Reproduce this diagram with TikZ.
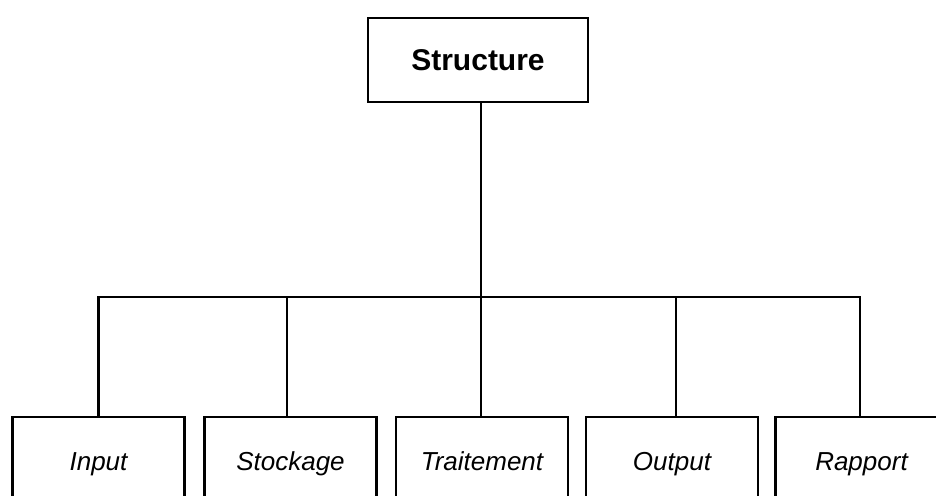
\documentclass[tikz,border=0pt]{standalone}
\usepackage{fontspec}
\setmainfont{Liberation Sans}
\usetikzlibrary{shadows}
\begin{document}
\begin{tikzpicture}[x=1pt,y=-1pt,
  boxshadow/.style={drop shadow={shadow xshift=1.2pt,shadow yshift=-1.2pt,fill=black!45,opacity=1}},
  topbox/.style={draw,line width=2.9pt,fill=white,minimum width=220pt,minimum height=84pt,inner sep=0pt,boxshadow,text height=21.5pt,text depth=0pt,font=\fontsize{30}{35}\selectfont\bfseries},
  childbox/.style={draw,line width=2.9pt,fill=white,minimum width=172pt,minimum height=89pt,inner sep=0pt,boxshadow,text height=18.6pt,text depth=0pt,font=\fontsize{26}{31}\selectfont\itshape},
  link/.style={line width=2.8pt}]
\useasboundingbox (0,0) rectangle (936,495);
\begin{scope}
\clip (0,0) rectangle (936,495);
\coordinate (bus) at (481,297);
\node[topbox] (top) at (478,60) {Structure};
\node[childbox] (input) at (98.5,461.5) {Input};
\node[childbox] (stock) at (290.5,461.5) {Stockage};
\node[childbox] (trait) at (482,461.5) {Traitement};
\node[childbox] (output) at (672,461.5) {Output};
\node[childbox] (rapport) at (861.5,461.5) {Rapport};
\draw[link] ([xshift=3pt]top.south) -- ([xshift=3pt]top.south |- bus);
\draw[link] (input.north) -- (input.north |- bus) -- ([xshift=-1.5pt]rapport.north |- bus) -- ([xshift=-1.5pt]rapport.north);
\draw[link] ([xshift=-3.5pt]stock.north) -- ([xshift=-3.5pt]stock.north |- bus);
\draw[link] ([xshift=-1pt]trait.north) -- ([xshift=-1pt]trait.north |- bus);
\draw[link] ([xshift=4pt]output.north) -- ([xshift=4pt]output.north |- bus);
\end{scope}
\end{tikzpicture}
\end{document}
